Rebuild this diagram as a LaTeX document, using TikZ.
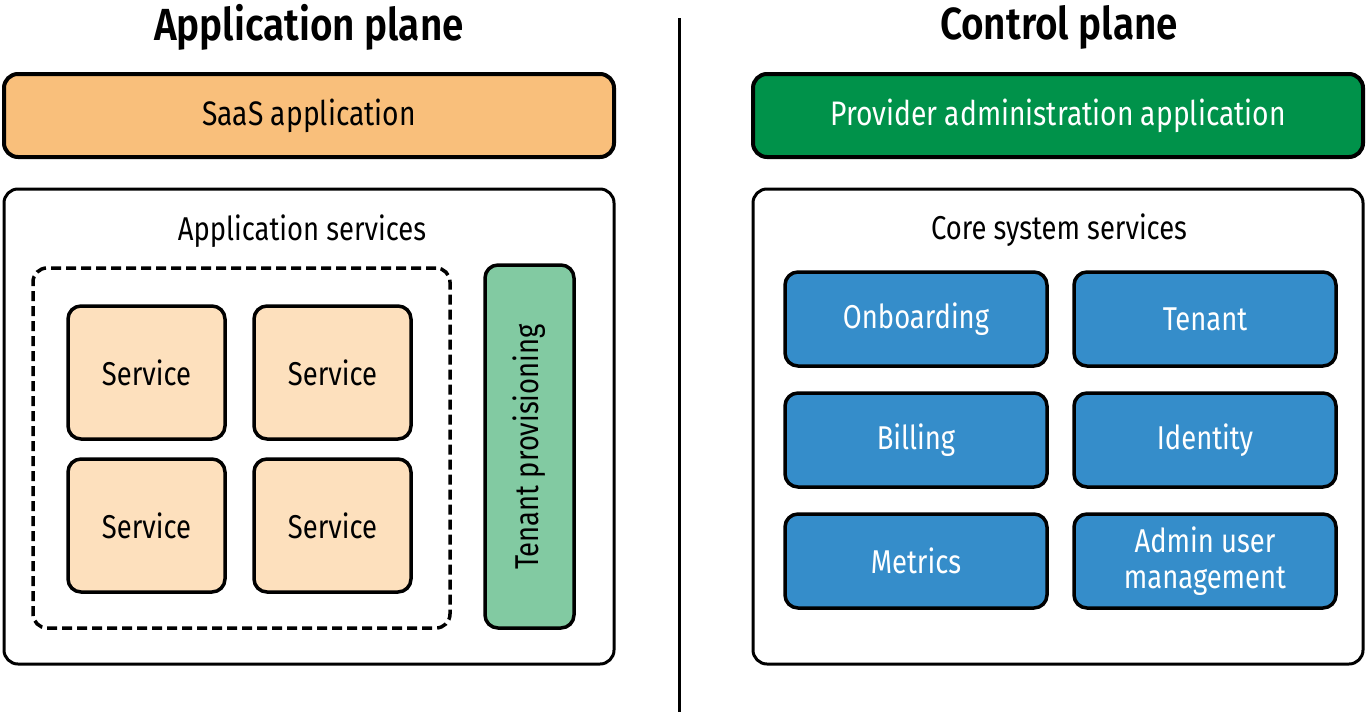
\documentclass[tikz,border=0pt]{standalone}
\usepackage{fontspec}
\setmainfont{Fira Sans}[FakeStretch=0.83]
\newfontfamily\titlefont{Fira Sans}[FakeStretch=0.86,UprightFont=* SemiBold]
\definecolor{saasfill}{HTML}{F9BF7B}
\definecolor{svcfill}{HTML}{FDE0BD}
\definecolor{tenfill}{HTML}{82CAA2}
\definecolor{provfill}{HTML}{00924A}
\definecolor{corefill}{HTML}{358DCA}
\tikzset{
  bar/.style={draw=black, line width=4pt, rounded corners=14pt, font=\fontsize{34}{38}\selectfont},
  panel/.style={draw=black, line width=3pt, rounded corners=14pt, fill=white},
  svcbox/.style={draw=black, line width=3.5pt, rounded corners=13pt, fill=svcfill,
    minimum width=157pt, minimum height=133pt, font=\fontsize{33}{36}\selectfont},
  corebox/.style={draw=black, line width=3.5pt, rounded corners=13pt, fill=corefill,
    text=white, minimum width=262pt, minimum height=94pt, align=center,
    font=\fontsize{33}{36}\selectfont},
  heading/.style={font=\fontsize{45}{50}\titlefont},
  label/.style={font=\fontsize{33}{36}\selectfont},
}
\begin{document}
\begin{tikzpicture}[x=1pt,y=-1pt]
\useasboundingbox (0,0) rectangle (1367,712);
% titles
\node[heading] (apptitle) at (309,27) {Application plane};
\node[heading] (ctltitle) at (1059,27) {Control plane};
% divider
\coordinate (divtop) at (679,18);
\coordinate (divbot) at (679,712);
\draw[line width=3pt] (divtop) -- (divbot);
% left side
\node[bar, fill=saasfill, minimum width=610pt, minimum height=83pt] (saas) at (309,115.5) {SaaS application};
\node[panel, minimum width=610pt, minimum height=475pt] (appsvc) at (309,426.5) {};
\node[label] (appsvclbl) at (302,231) {Application services};
\node[draw=black, line width=3.5pt, dash pattern=on 10pt off 5pt, rounded corners=14pt,
  minimum width=417pt, minimum height=360pt] (group) at (241.5,448) {};
\node[svcbox] (s1) at (146.5,372.5) {Service};
\node[svcbox] (s2) at (332.5,372.5) {Service};
\node[svcbox] (s3) at (146.5,525.5) {Service};
\node[svcbox] (s4) at (332.5,525.5) {Service};
\node[draw=black, line width=3.5pt, rounded corners=13pt, fill=tenfill,
  minimum width=89pt, minimum height=363pt] (tenant) at (529.5,446.5) {};
\node[label, rotate=90] (tenantlbl) at (529.5,447) {Tenant provisioning};
% right side
\node[bar, fill=provfill, text=white, minimum width=610pt, minimum height=83pt] (prov) at (1058,115.5) {Provider administration application};
\node[panel, minimum width=610pt, minimum height=475pt] (core) at (1058,426.5) {};
\node[label] (corelbl) at (1059,230) {Core system services};
\node[corebox] (onb) at (916,319) {Onboarding};
\node[corebox] (ten) at (1205,319) {Tenant};
\node[corebox] (bill) at (916,440) {Billing};
\node[corebox] (ident) at (1205,440) {Identity};
\node[corebox] (metr) at (916,561) {Metrics};
\node[corebox] (admin) at (1205,561) {Admin user\\management};
\end{tikzpicture}
\end{document}
